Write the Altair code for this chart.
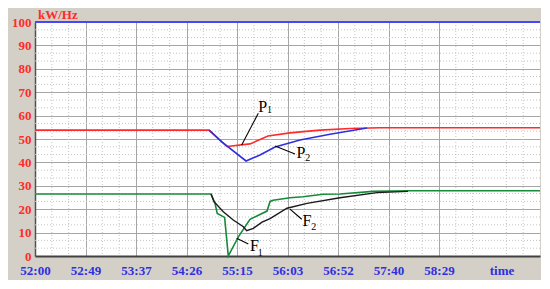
import json
import altair as alt
import pandas as pd

# ---------------- data ----------------
TICK_LABELS = ["52:00", "52:49", "53:37", "54:26", "55:15", "56:03", "56:52", "57:40", "58:29"]
STEP = 48.6          # seconds between labelled grid lines
T_MAX = 486          # axis span in seconds

p1_t = [0, 167.5, 184.8, 206.9, 224.2, 245.4, 274.3, 303.2, 332.0, 486]
p1_v = [53.8, 53.8, 46.8, 47.9, 51.3, 52.6, 53.8, 54.5, 54.8, 54.8]

p2_t = [167.5, 180.0, 203.1, 216.5, 231.0, 255.0, 283.9, 319.5]
p2_v = [53.8, 48.7, 40.6, 43.2, 46.6, 49.6, 52.0, 54.7]

f1_t = [0, 169.4, 173.2, 175.4, 182.5, 186.0, 195.7, 206.9, 223.3, 226.2, 229.1,
        245.4, 257.9, 277.2, 293.5, 325.3, 360.9, 486]
f1_v = [26.5, 26.5, 22.5, 18.2, 16.5, 0, 8.2, 15.7, 19.2, 23.3, 23.8,
        24.9, 25.3, 26.4, 26.5, 27.6, 27.9, 27.9]

f2_t = [169.4, 172.3, 181.2, 190.8, 200.5, 203.7, 210.1, 218.5, 226.2, 242.5,
        261.8, 293.5, 329.1, 359.0]
f2_v = [26.5, 23.2, 18.9, 15.4, 12.5, 10.8, 11.8, 14.5, 16.0, 20.4,
        22.5, 24.9, 27.1, 27.6]

# annotation leader lines
lead_t1 = [214.9, 231.0, 194.1, 245.4]
lead_v1 = [61.0, 47.0, 7.6, 20.0]
lead_t2 = [198.9, 250.2, 205.3, 256.7]
lead_v2 = [47.4, 43.6, 5.1, 15.7]

# annotation labels (letter + subscript)
letters = ["P", "P", "F", "F"]
letter_t = [219.2, 256.0, 211.2, 261.8]
letter_v = [63.8, 44.0, 4.3, 15.0]
subs = ["1", "2", "1", "2"]
sub_t = [225.6, 262.6, 216.8, 268.2]
sub_v = [62.2, 41.8, 1.4, 12.6]

# ---------------- styling ----------------
FONT = "Liberation Serif"
RED = "#ff2a2a"
BLUE = "#2f2fe0"
GREEN = "#178a3a"
BLACK = "#1a1a1a"

major_t = [i * STEP for i in range(9)]
minor_t = [k * STEP / 3 for k in range(1, 30) if k % 3 != 0]
minor_v = [k * 10 / 3 for k in range(1, 30) if k % 3 != 0]

label_expr = json.dumps(TICK_LABELS) + "[round(datum.value / %s)]" % STEP

X = alt.X("t:Q", scale=alt.Scale(domain=[0, T_MAX], nice=False, zero=False),
          axis=alt.Axis(values=major_t, labelExpr=label_expr, title=None, ticks=False,
                        labelColor=BLUE, labelFont=FONT, labelFontWeight="bold",
                        labelFontSize=13, labelPadding=8, labelFlush=False,
                        labelOverlap=False, domainColor="#404040", domainWidth=2,
                        grid=True, gridColor="#a6a6a6", gridWidth=1))
Y = alt.Y("v:Q", scale=alt.Scale(domain=[0, 100], nice=False),
          axis=alt.Axis(values=list(range(0, 101, 10)), title=None, ticks=False,
                        labelColor=RED, labelFont=FONT, labelFontWeight="bold",
                        labelFontSize=13, labelPadding=4,
                        domainColor="#505050", domainWidth=1.5,
                        grid=True, gridColor="#a6a6a6", gridWidth=1))


def series(ts, vs):
    return pd.DataFrame({"t": ts, "v": vs})


minor_x = alt.Chart(pd.DataFrame({"t": minor_t})).mark_rule(
    color="#c4c4c4", strokeDash=[1, 2], strokeWidth=1).encode(x=X)
minor_y = alt.Chart(pd.DataFrame({"v": minor_v})).mark_rule(
    color="#c4c4c4", strokeDash=[1, 2], strokeWidth=1).encode(y=Y)

top_border = alt.Chart(pd.DataFrame({"v": [100]})).mark_rule(
    color="#4646ff", strokeWidth=2).encode(y=Y)

red_line = alt.Chart(series(p1_t, p1_v)).mark_line(color=RED, strokeWidth=1.6).encode(x=X, y=Y)
blue_line = alt.Chart(series(p2_t, p2_v)).mark_line(color=BLUE, strokeWidth=1.6).encode(x=X, y=Y)
green_line = alt.Chart(series(f1_t, f1_v)).mark_line(color=GREEN, strokeWidth=1.6).encode(x=X, y=Y)
black_line = alt.Chart(series(f2_t, f2_v)).mark_line(color=BLACK, strokeWidth=1.4).encode(x=X, y=Y)

leaders = alt.Chart(pd.DataFrame({"t": lead_t1, "v": lead_v1, "t2": lead_t2, "v2": lead_v2})).mark_rule(
    color="black", strokeWidth=1.1).encode(x=X, y=Y, x2="t2:Q", y2="v2:Q")

letter_txt = alt.Chart(pd.DataFrame({"t": letter_t, "v": letter_v, "s": letters})).mark_text(
    font=FONT, fontSize=16, color="black", align="center", baseline="middle").encode(x=X, y=Y, text="s:N")
sub_txt = alt.Chart(pd.DataFrame({"t": sub_t, "v": sub_v, "s": subs})).mark_text(
    font=FONT, fontSize=10, color="black", align="center", baseline="middle").encode(x=X, y=Y, text="s:N")

unit_txt = alt.Chart(pd.DataFrame({"s": ["kW/Hz"]})).mark_text(
    font=FONT, fontSize=13, fontWeight="bold", color=RED, align="left", baseline="middle").encode(
    x=alt.value(3), y=alt.value(-7), text="s:N")
time_txt = alt.Chart(pd.DataFrame({"s": ["time"]})).mark_text(
    font=FONT, fontSize=13, fontWeight="bold", color=BLUE, align="center", baseline="middle").encode(
    x=alt.value(467), y=alt.value(249), text="s:N")

chart = alt.layer(
    minor_x, minor_y, red_line, blue_line, green_line, black_line, top_border,
    leaders, letter_txt, sub_txt, unit_txt, time_txt
).properties(
    width=505, height=234,
    autosize=alt.AutoSizeParams(type="none"),
    padding={"left": 27, "top": 14, "right": 1, "bottom": 24},
    background="#d4d0c8",
).configure_view(fill="white", strokeWidth=0)

chart.save("out.html", embed_options={"renderer": "svg", "actions": False})
